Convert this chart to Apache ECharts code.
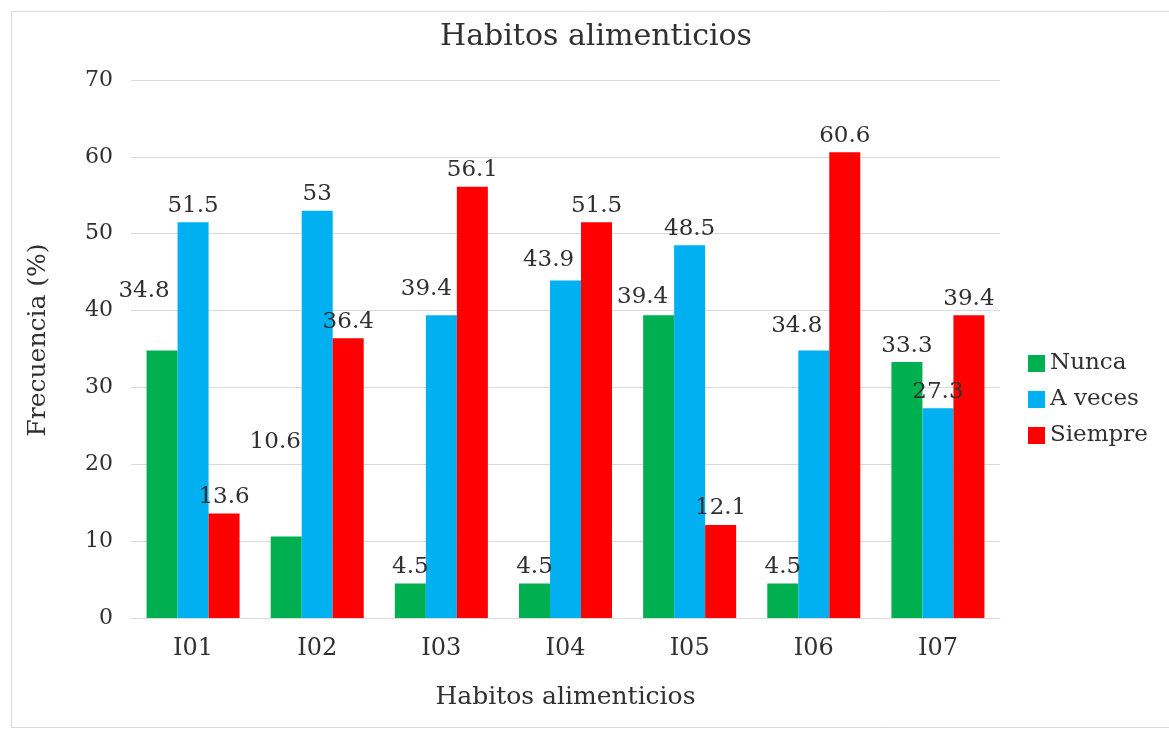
<!DOCTYPE html>
<html>
<head>
<meta charset="utf-8">
<script src="https://cdn.jsdelivr.net/npm/echarts@6/dist/echarts.min.js"></script>
<style>
  html, body { margin: 0; padding: 0; background: #ffffff; }
  #chart { width: 1169px; height: 730px; }
</style>
</head>
<body>
<div id="chart"></div>
<script>
// Categories and values (percent of respondents per answer)
const categories = ['I01', 'I02', 'I03', 'I04', 'I05', 'I06', 'I07'];
const nunca   = [34.8, 10.6, 4.5, 4.5, 39.4, 4.5, 33.3];
const aVeces  = [51.5, 53, 39.4, 43.9, 48.5, 34.8, 27.3];
const siempre = [13.6, 36.4, 56.1, 51.5, 12.1, 60.6, 39.4];
const yTicks  = [0, 10, 20, 30, 40, 50, 60, 70];

const FONT = '"DejaVu Serif", "Liberation Serif", serif';
const TEXT = '#303030';

// Hand-placed data labels that were nudged away from neighbouring bars
const labelNudge = {
  Nunca:   { 0: [-18, -43], 1: [-11, -78], 4: [-16, -2] },
  'A veces': { 2: [-15, -10], 3: [-17, -4], 5: [-17, -8] },
  Siempre: {}
};

function buildSeries(name, values, color) {
  return {
    name: name,
    type: 'bar',
    barWidth: 31,
    barGap: '0%',
    itemStyle: { color: color },
    label: {
      show: true,
      position: 'top',
      distance: 5,
      fontFamily: FONT,
      fontSize: 23,
      color: TEXT
    },
    data: values.map(function (v, i) {
      const nudge = labelNudge[name][i];
      return nudge ? { value: v, label: { offset: nudge } } : v;
    })
  };
}

const chart = echarts.init(document.getElementById('chart'), null, { renderer: 'canvas' });
chart.setOption({
  backgroundColor: '#ffffff',
  animation: false,
  title: {
    text: 'Habitos alimenticios',
    left: 591,
    top: 17,
    textAlign: 'center',
    textStyle: { fontFamily: FONT, fontSize: 30, fontWeight: 'normal', color: TEXT }
  },
  legend: {
    orient: 'vertical',
    left: 1028,
    top: 352,
    padding: 0,
    itemGap: 13,
    itemWidth: 17,
    itemHeight: 17,
    icon: 'rect',
    textStyle: { fontFamily: FONT, fontSize: 23, color: TEXT },
    data: ['Nunca', 'A veces', 'Siempre']
  },
  grid: { left: 131, right: 169, top: 80, bottom: 112, containLabel: false },
  xAxis: {
    type: 'category',
    data: categories,
    name: 'Habitos alimenticios',
    nameLocation: 'middle',
    nameGap: 67,
    nameTextStyle: { fontFamily: FONT, fontSize: 25, color: TEXT },
    axisLine: { lineStyle: { color: '#d9d9d9', width: 1 } },
    axisTick: { show: false },
    axisLabel: { fontFamily: FONT, fontSize: 24, color: TEXT, margin: 19 }
  },
  yAxis: {
    type: 'value',
    min: yTicks[0],
    max: yTicks[yTicks.length - 1],
    interval: yTicks[1] - yTicks[0],
    name: 'Frecuencia (%)',
    nameLocation: 'middle',
    nameGap: 80,
    nameTextStyle: { fontFamily: FONT, fontSize: 25, color: TEXT, padding: [0, 0, 0, 18] },
    axisLine: { show: false },
    axisTick: { show: false },
    axisLabel: { fontFamily: FONT, fontSize: 22, color: TEXT, margin: 18 },
    splitLine: { lineStyle: { color: '#d9d9d9', width: 1 } }
  },
  graphic: [{
    type: 'rect',
    shape: { x: 11.5, y: 11.5, width: 1170, height: 716 },
    style: { fill: 'none', stroke: '#d9d9d9', lineWidth: 1 },
    silent: true
  }],
  series: [
    buildSeries('Nunca', nunca, '#00B050'),
    buildSeries('A veces', aVeces, '#00B0F0'),
    buildSeries('Siempre', siempre, '#FF0000')
  ]
});
</script>
</body>
</html>
